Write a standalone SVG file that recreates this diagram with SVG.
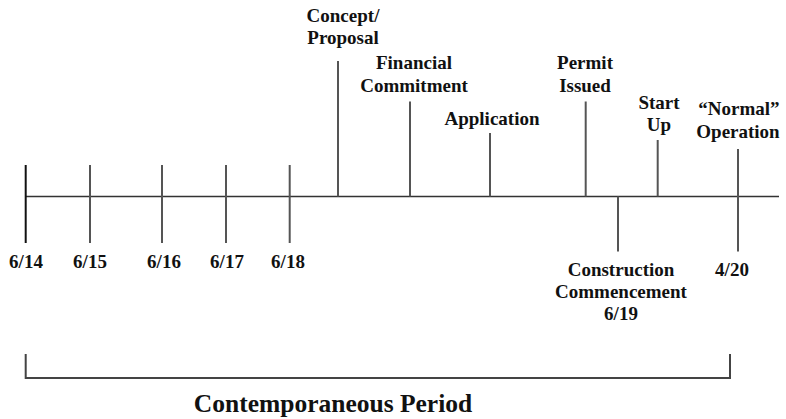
<svg xmlns="http://www.w3.org/2000/svg" width="786" height="419" viewBox="0 0 786 419">
<style>
text{font-family:"Liberation Serif","Times New Roman",serif;font-weight:bold;font-size:19px;fill:#111;text-anchor:middle}
.big{font-size:25.5px}
.tick{stroke:#555;stroke-width:2;fill:none}
.axis{stroke:#333;stroke-width:1.6;fill:none}
</style>
<rect width="786" height="419" fill="#fff"/>
<g id="connectors">
<line class="axis" x1="25" y1="196.5" x2="779" y2="196.5"/>
<line class="tick" x1="25.7" y1="165" x2="25.7" y2="243" style="stroke:#111"/>
<line class="tick" x1="90" y1="165" x2="90" y2="243"/>
<line class="tick" x1="162" y1="165" x2="162" y2="243"/>
<line class="tick" x1="226" y1="165" x2="226" y2="243"/>
<line class="tick" x1="289.7" y1="165" x2="289.7" y2="243"/>
<line class="tick" x1="338" y1="61" x2="338" y2="196.5"/>
<line class="tick" x1="410" y1="101.5" x2="410" y2="196.5"/>
<line class="tick" x1="490" y1="133" x2="490" y2="196.5"/>
<line class="tick" x1="585.7" y1="101.5" x2="585.7" y2="196.5"/>
<line class="tick" x1="657.7" y1="140" x2="657.7" y2="196.5"/>
<line class="tick" x1="618" y1="196.5" x2="618" y2="251.5"/>
<line class="tick" x1="738" y1="149" x2="738" y2="251.5"/>
<polyline class="tick" points="25.7,354 25.7,378 730,378 730,354" style="stroke:#444"/>
</g>
<g id="d614"><text x="26" y="268">6/14</text></g>
<g id="d615"><text x="90" y="268">6/15</text></g>
<g id="d616"><text x="164" y="268">6/16</text></g>
<g id="d617"><text x="227" y="268">6/17</text></g>
<g id="d618"><text x="288" y="268">6/18</text></g>
<g id="concept"><text x="343" y="22">Concept/</text><text x="343" y="44">Proposal</text></g>
<g id="financial"><text x="414" y="69">Financial</text><text x="414" y="91.5">Commitment</text></g>
<g id="application"><text x="492" y="125">Application</text></g>
<g id="permit"><text x="585" y="69">Permit</text><text x="585" y="91.5">Issued</text></g>
<g id="startup"><text x="659" y="109">Start</text><text x="659" y="131">Up</text></g>
<g id="normal"><text x="739" y="115">“Normal”</text><text x="738" y="137.5">Operation</text></g>
<g id="construction"><text x="621" y="276">Construction</text><text x="621" y="298">Commencement</text><text x="621" y="319.5">6/19</text></g>
<g id="d420"><text x="732" y="276">4/20</text></g>
<g id="period"><text class="big" x="333" y="412">Contemporaneous Period</text></g>
</svg>
